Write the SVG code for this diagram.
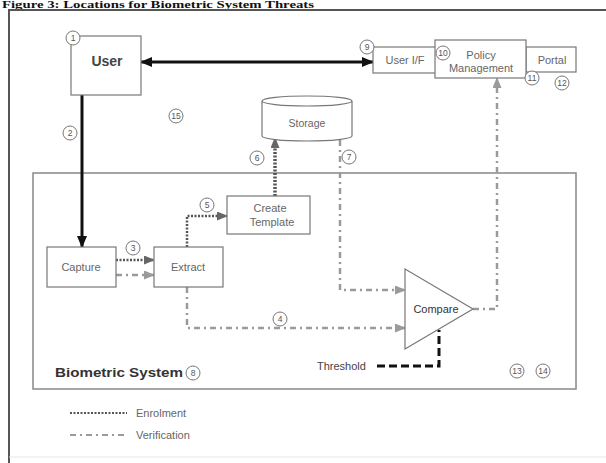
<svg xmlns="http://www.w3.org/2000/svg" width="606" height="463" viewBox="0 0 606 463">
<style>
text{font-family:"Liberation Sans",Arial,sans-serif;}
.box{fill:#fff;stroke:#777;stroke-width:1.2}
.lbl{font-size:11px;fill:#666;text-anchor:middle}
.dark{fill:#333}
.num circle{fill:#fff;stroke:#777;stroke-width:1}
.num text{font-size:8.5px;fill:#555;text-anchor:middle}
.enr{fill:none;stroke:#555;stroke-width:2.5;stroke-dasharray:2 1.5}
.ver{fill:none;stroke:#9a9a9a;stroke-width:2.5;stroke-dasharray:6 4 2 4}
.blk{fill:none;stroke:#111;stroke-width:3}
</style>
<defs>
<marker id="aBlk" markerUnits="userSpaceOnUse" markerWidth="12" markerHeight="10" refX="11" refY="5" orient="auto-start-reverse"><path d="M0,0 L12,5 L0,10 z" fill="#111"/></marker>
<marker id="aEnr" markerUnits="userSpaceOnUse" markerWidth="11" markerHeight="9" refX="10" refY="4.5" orient="auto"><path d="M0,0 L11,4.5 L0,9 z" fill="#666"/></marker>
<marker id="aVer" markerUnits="userSpaceOnUse" markerWidth="11" markerHeight="9" refX="10" refY="4.5" orient="auto"><path d="M0,0 L11,4.5 L0,9 z" fill="#9a9a9a"/></marker>
</defs>
<rect width="606" height="463" fill="#fff"/>
<text x="2" y="8" style="font-family:'Liberation Serif',serif;font-size:10px;font-weight:bold" fill="#111" textLength="312" lengthAdjust="spacingAndGlyphs">Figure 3: Locations for Biometric System Threats</text>
<path d="M9,463 L9,10 L606,10" fill="none" stroke="#555" stroke-width="2"/>
<line x1="9" y1="457" x2="606" y2="457" stroke="#e6e6e6" stroke-width="1"/>

<g id="biometric-system">
<rect x="33" y="173" width="543" height="216" fill="none" stroke="#888" stroke-width="1.5"/>
<text x="55" y="377" style="font-size:12px;font-weight:bold" fill="#333" textLength="128" lengthAdjust="spacingAndGlyphs">Biometric System</text>
</g>

<g id="connectors">
<line class="blk" x1="141" y1="62" x2="373" y2="62" marker-start="url(#aBlk)" marker-end="url(#aBlk)"/>
<line class="blk" x1="82" y1="95" x2="82" y2="247" marker-end="url(#aBlk)"/>
<line class="enr" x1="116" y1="260" x2="154" y2="260" marker-end="url(#aEnr)"/>
<line class="ver" x1="116" y1="275" x2="154" y2="275" marker-end="url(#aVer)"/>
<path class="enr" d="M187,247 L187,216 L227,216" marker-end="url(#aEnr)"/>
<line class="enr" x1="275" y1="196" x2="275" y2="138" style="stroke-width:3.5" marker-end="url(#aEnr)"/>
<path class="ver" d="M340,140 L340,290 L405,290" marker-end="url(#aVer)"/>
<path class="ver" d="M187,287 L187,328 L405,328" marker-end="url(#aVer)"/>
<path class="ver" d="M473,309 L497,309 L497,78" marker-end="url(#aVer)"/>
<path d="M377,366 L439,366 L439,330" fill="none" stroke="#111" stroke-width="3" stroke-dasharray="8 4"/>
</g>

<g id="user">
<rect class="box" x="71" y="36" width="70" height="59"/>
<text x="107" y="66" style="font-size:14px;font-weight:bold;text-anchor:middle" fill="#444">User</text>
</g>
<g id="user-if">
<rect class="box" x="373" y="47" width="63" height="26"/>
<text class="lbl" x="405" y="64">User I/F</text>
</g>
<g id="portal">
<rect class="box" x="526" y="47" width="50" height="25"/>
<text class="lbl" x="552" y="64">Portal</text>
</g>
<g id="policy-management">
<rect class="box" x="435" y="40" width="91" height="38"/>
<text class="lbl" x="481" y="59">Policy</text>
<text class="lbl" x="481" y="72">Management</text>
</g>
<g id="storage">
<path d="M262,101 L262,136 A45,5 0 0 0 352,136 L352,101" fill="#fff" stroke="#777" stroke-width="1.2"/>
<ellipse cx="307" cy="101" rx="45" ry="5" fill="#fff" stroke="#777" stroke-width="1.2"/>
<text class="lbl" x="307" y="127" style="font-size:10.5px">Storage</text>
</g>
<g id="capture">
<rect class="box" x="47" y="247" width="69" height="40"/>
<text class="lbl" x="81" y="271">Capture</text>
</g>
<g id="extract">
<rect class="box" x="154" y="247" width="69" height="40"/>
<text class="lbl" x="188" y="271">Extract</text>
</g>
<g id="create-template">
<rect class="box" x="227" y="196" width="83" height="38"/>
<text class="lbl" x="270" y="212">Create</text>
<text class="lbl" x="272" y="226">Template</text>
</g>
<g id="compare">
<path d="M405,269 L405,349 L473,309 z" fill="#fff" stroke="#777" stroke-width="1.2"/>
<text class="lbl dark" x="436" y="313">Compare</text>
</g>
<g id="threshold">
<text x="317" y="370" style="font-size:11px" fill="#444">Threshold</text>
</g>

<g id="numbers" class="num">
<circle cx="73" cy="38" r="7"/><text x="73" y="41">1</text>
<circle cx="70" cy="133" r="7"/><text x="70" y="136">2</text>
<circle cx="133" cy="248" r="7"/><text x="133" y="251">3</text>
<circle cx="280" cy="319" r="7"/><text x="280" y="322">4</text>
<circle cx="207" cy="205" r="7"/><text x="207" y="208">5</text>
<circle cx="257" cy="158" r="7"/><text x="257" y="161">6</text>
<circle cx="349" cy="157" r="7"/><text x="349" y="160">7</text>
<circle cx="193" cy="373" r="7"/><text x="193" y="376">8</text>
<circle cx="367" cy="47" r="7"/><text x="367" y="50">9</text>
<circle cx="443" cy="53" r="7"/><text x="443" y="56">10</text>
<circle cx="532" cy="78" r="7"/><text x="532" y="81">11</text>
<circle cx="562" cy="83" r="7"/><text x="562" y="86">12</text>
<circle cx="517" cy="371" r="7"/><text x="517" y="374">13</text>
<circle cx="543" cy="371" r="7"/><text x="543" y="374">14</text>
<circle cx="176" cy="116" r="7"/><text x="176" y="119">15</text>
</g>

<g id="legend">
<line class="enr" x1="70" y1="413" x2="127" y2="413" style="stroke-width:2"/>
<text x="136" y="417" style="font-size:11px" fill="#666">Enrolment</text>
<line class="ver" x1="70" y1="435" x2="127" y2="435" style="stroke-width:2"/>
<text x="136" y="439" style="font-size:11px" fill="#666">Verification</text>
</g>
</svg>
